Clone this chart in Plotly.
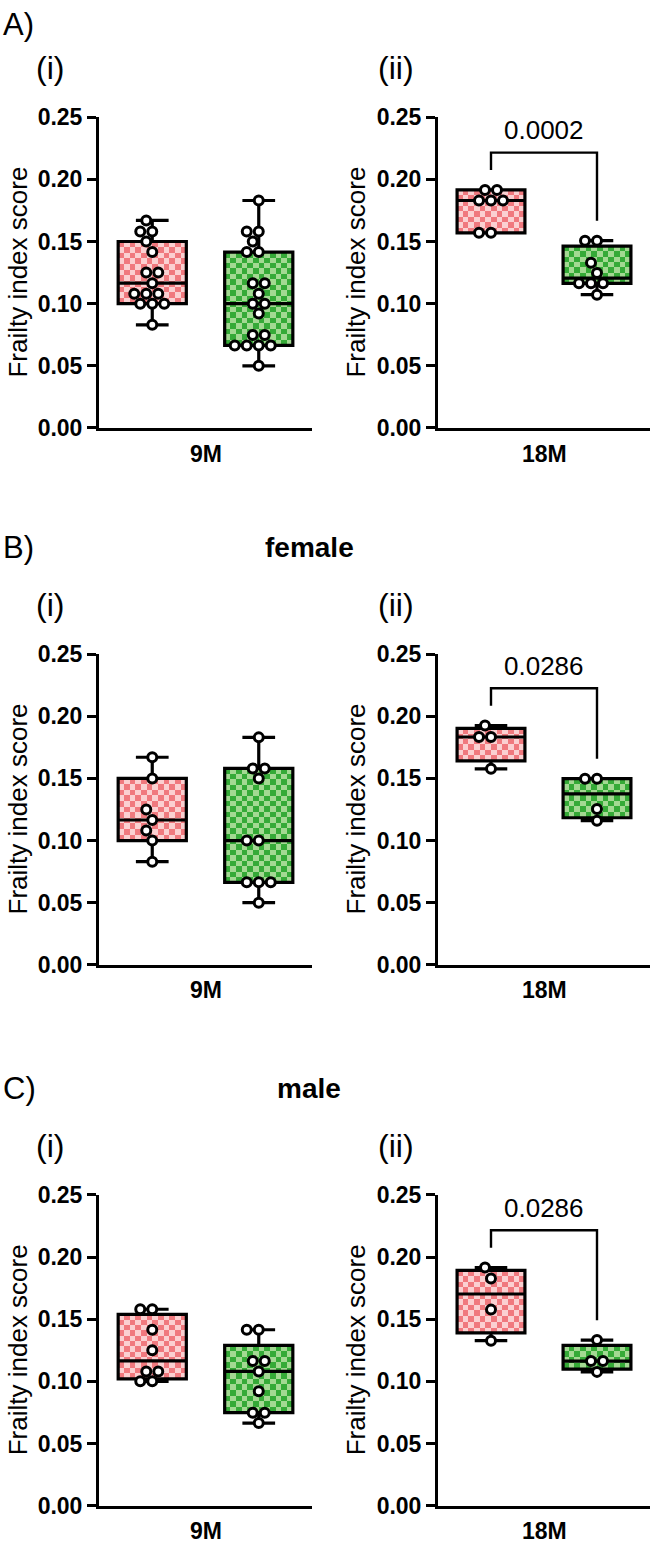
import numpy as np
import plotly.graph_objects as go

# ---------------- data (Frailty index score) ----------------
ages = ["9M", "18M"]
row_letters = ["A)", "B)", "C)"]
row_titles = ["", "female", "male"]
col_labels = ["(i)", "(ii)"]
p_values = ["0.0002", "0.0286", "0.0286"]   # 18M comparisons
y_ticks = [0.00, 0.05, 0.10, 0.15, 0.20, 0.25]
y_title = "Frailty index score"

# A) all animals
all_9m_pink = [0.083, 0.100, 0.100, 0.100, 0.108, 0.108, 0.108, 0.1165,
               0.125, 0.125, 0.1415, 0.150, 0.158, 0.158, 0.167]
all_9m_green = [0.050, 0.0664, 0.0664, 0.0664, 0.0664, 0.0748, 0.0748, 0.092,
                0.100, 0.100, 0.108, 0.1164, 0.1164, 0.1415, 0.1415, 0.150,
                0.158, 0.158, 0.183]
all_18m_pink = [0.157, 0.157, 0.183, 0.183, 0.183, 0.1915, 0.1915]
all_18m_green = [0.1072, 0.1164, 0.1164, 0.1164, 0.1246, 0.133, 0.1507, 0.1507]

# B) female
female_9m_pink = [0.083, 0.100, 0.108, 0.1165, 0.125, 0.150, 0.167]
female_9m_green = [0.050, 0.0664, 0.0664, 0.0664, 0.100, 0.100, 0.150, 0.158, 0.158, 0.183]
female_18m_pink = [0.1577, 0.1833, 0.1833, 0.1925]
female_18m_green = [0.116, 0.1253, 0.1498, 0.1498]

# C) male
male_9m_pink = [0.100, 0.100, 0.108, 0.108, 0.125, 0.1415, 0.158, 0.158]
male_9m_green = [0.0664, 0.0748, 0.0748, 0.092, 0.108, 0.1164, 0.1164, 0.1415, 0.1415]
male_18m_pink = [0.1327, 0.1577, 0.1828, 0.1915]
male_18m_green = [0.1076, 0.1163, 0.1163, 0.1332]

panels = [
    [(all_9m_pink, all_9m_green), (all_18m_pink, all_18m_green)],
    [(female_9m_pink, female_9m_green), (female_18m_pink, female_18m_green)],
    [(male_9m_pink, male_9m_green), (male_18m_pink, male_18m_green)],
]

# ---------------- style / layout ----------------
W, H = 652, 1555
FONT = "Liberation Sans, Arial, sans-serif"
X_DOM = [(99, 312), (438, 650)]
ROW_TOP = [106, 652, 1202]
AX_H = 316
YMAX = 0.25
XRANGE = [-0.5, 1.5]
BOX_W = 0.64
CELL_PX = 5.6
PINK = ("#F0797E", "#FBD0D1")
GREEN = ("#35AA37", "#A3D992")
MARK_D = 12.0


def px_x(px):
    return px / W


def px_y(py):
    return 1 - py / H


def swarm_offsets(vals, xpx, ypx, diam):
    vals = np.asarray(vals, float)
    order = np.argsort(vals, kind="stable")
    step = diam / 2
    cands = [0.0]
    for k in range(1, 30):
        cands += [-k * step, k * step]
    placed = []
    offs = np.zeros(len(vals))
    for i in order:
        y = vals[i] * ypx
        chosen = cands[-1]
        for cx in cands:
            if all((cx - a) ** 2 + (y - b) ** 2 >= (diam * 0.97) ** 2 for a, b in placed):
                chosen = cx
                break
        placed.append((chosen, y))
        offs[i] = chosen / xpx
    return offs


fig = go.Figure()
annotations = []
layout = {}

for r in range(3):
    for c in range(2):
        k = r * 2 + c + 1
        xname = "x" if k == 1 else f"x{k}"
        yname = "y" if k == 1 else f"y{k}"
        x0, x1 = X_DOM[c]
        top = ROW_TOP[r]
        bot = top + AX_H
        xpx = (x1 - x0) / (XRANGE[1] - XRANGE[0])
        ypx = AX_H / YMAX

        layout["xaxis" if k == 1 else f"xaxis{k}"] = dict(
            domain=[px_x(x0), px_x(x1)], anchor=yname, range=XRANGE,
            showline=True, linecolor="black", linewidth=3, showgrid=False,
            zeroline=False, showticklabels=False, ticks="", fixedrange=True)
        layout["yaxis" if k == 1 else f"yaxis{k}"] = dict(
            domain=[px_y(bot), px_y(top)], anchor=xname, range=[0, YMAX],
            showline=True, linecolor="black", linewidth=3, showgrid=False,
            zeroline=False, tickvals=y_ticks, tickformat=".2f", ticks="outside",
            ticklen=9, tickwidth=3, tickcolor="black",
            tickfont=dict(family=FONT, size=23, color="black", weight="bold"),
            fixedrange=True)

        groups = panels[r][c]
        for g, (vals, cols) in enumerate(zip(groups, (PINK, GREEN))):
            v = np.asarray(vals, float)
            q1, med, q3 = np.percentile(v, [25, 50, 75], method="weibull")
            # checkered box body
            ncol = max(1, int(round(BOX_W * xpx / CELL_PX)))
            nrow = max(1, int(round((q3 - q1) * ypx / CELL_PX)))
            xe = np.linspace(g - BOX_W / 2, g + BOX_W / 2, ncol + 1)
            ye = np.linspace(q1, q3, nrow + 1)
            z = [[(i + j) % 2 for j in range(ncol)] for i in range(nrow)]
            fig.add_trace(go.Heatmap(
                x=xe, y=ye, z=z, xaxis=xname, yaxis=yname,
                colorscale=[[0, cols[0]], [1, cols[1]]], zmin=0, zmax=1,
                showscale=False, hoverinfo="skip"))
            fig.add_trace(go.Box(
                x=[g], q1=[q1], median=[med], q3=[q3],
                lowerfence=[v.min()], upperfence=[v.max()],
                width=BOX_W, whiskerwidth=0.48, boxpoints=False,
                fillcolor="rgba(0,0,0,0)", line=dict(color="black", width=3.2),
                xaxis=xname, yaxis=yname, hoverinfo="skip"))
            offs = swarm_offsets(v, xpx, ypx, MARK_D)
            fig.add_trace(go.Scatter(
                x=g + offs, y=v, mode="markers", xaxis=xname, yaxis=yname,
                marker=dict(size=9, color="white",
                            line=dict(color="black", width=3)),
                hoverinfo="skip"))

        # significance bracket on 18M panels
        if c == 1:
            m0 = max(groups[0])
            m1 = max(groups[1])
            topv = max(m0, m1) + 0.03
            fig.add_trace(go.Scatter(
                x=[0, 0, 1, 1], y=[m0 + 0.016, topv, topv, m1 + 0.016],
                mode="lines", line=dict(color="black", width=2.4),
                xaxis=xname, yaxis=yname, hoverinfo="skip"))
            annotations.append(dict(
                x=0.5, y=topv + 0.018, xref=xname, yref=yname, text=p_values[r],
                showarrow=False, font=dict(family=FONT, size=26, color="black"),
                xanchor="center", yanchor="middle"))

        # x category label
        annotations.append(dict(
            x=px_x((x0 + x1) / 2), y=px_y(bot + 26), xref="paper", yref="paper",
            text=ages[c], showarrow=False,
            font=dict(family=FONT, size=23, color="black", weight="bold"),
            xanchor="center", yanchor="middle"))
        # y title
        annotations.append(dict(
            x=px_x(18 if c == 0 else 356), y=px_y(top + AX_H / 2),
            xref="paper", yref="paper", text=y_title, textangle=-90,
            showarrow=False, font=dict(family=FONT, size=26, color="black"),
            xanchor="center", yanchor="middle"))
        # (i)/(ii)
        annotations.append(dict(
            x=px_x(50 if c == 0 else 396), y=px_y(top - 50),
            xref="paper", yref="paper", text=col_labels[c], showarrow=False,
            font=dict(family=FONT, size=32, color="black"),
            xanchor="center", yanchor="middle"))

    # row letters and titles
    annotations.append(dict(
        x=px_x(1), y=px_y(ROW_TOP[r] - (94 if r == 0 else 108)),
        xref="paper", yref="paper", text=row_letters[r], showarrow=False,
        font=dict(family=FONT, size=31, color="black"),
        xanchor="left", yanchor="middle"))
    if row_titles[r]:
        annotations.append(dict(
            x=px_x(309), y=px_y(ROW_TOP[r] - 108),
            xref="paper", yref="paper", text=row_titles[r], showarrow=False,
            font=dict(family=FONT, size=28, color="black", weight="bold"),
            xanchor="center", yanchor="middle"))

fig.update_layout(
    width=W, height=H, margin=dict(l=0, r=0, t=0, b=0),
    paper_bgcolor="white", plot_bgcolor="white", showlegend=False,
    annotations=annotations, **layout)

fig.write_html("out.html")
